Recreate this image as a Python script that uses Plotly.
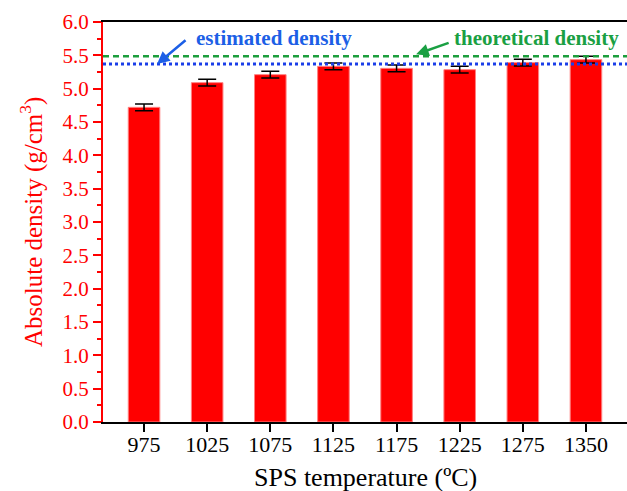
import plotly.graph_objects as go

# SPS sintering temperatures (ºC) and measured absolute densities (g/cm3)
temperatures = ["975", "1025", "1075", "1125", "1175", "1225", "1275", "1350"]
density = [4.72, 5.09, 5.21, 5.335, 5.305, 5.285, 5.39, 5.435]
density_err = [0.05, 0.05, 0.05, 0.05, 0.05, 0.05, 0.05, 0.05]

theoretical_density = 5.485
estimated_density = 5.37

SERIF = "Liberation Serif"
RED = "#ff0000"
BLUE_LINE = "#1a3ee8"
GREEN_LINE = "#1c9e3c"
BLUE_TEXT = "#1c5fe6"
GREEN_TEXT = "#1aa043"

xpos = list(range(len(temperatures)))

fig = go.Figure()
fig.add_trace(go.Bar(
    x=xpos, y=density, width=0.5,
    marker=dict(color=RED, line=dict(color="#ff8080", width=1)),
    error_y=dict(type="data", array=density_err, color="black",
                 thickness=1.5, width=9),
))

# reference density levels
fig.add_shape(type="line", xref="paper", x0=0, x1=1, yref="y",
              y0=theoretical_density, y1=theoretical_density,
              line=dict(color=GREEN_LINE, width=2.5, dash="6px,4px"))
fig.add_shape(type="line", xref="paper", x0=0, x1=1, yref="y",
              y0=estimated_density, y1=estimated_density,
              line=dict(color=BLUE_LINE, width=3, dash="dot"))

annotations = [
    dict(x=0.206, y=estimated_density, xref="x", yref="y", text="",
         showarrow=True, arrowhead=2, arrowsize=1, arrowwidth=2.5,
         arrowcolor=BLUE_TEXT, ax=30, ay=-25),
    dict(x=4.31, y=theoretical_density + 0.03, xref="x", yref="y", text="",
         showarrow=True, arrowhead=2, arrowsize=1, arrowwidth=2.5,
         arrowcolor=GREEN_TEXT, ax=34, ay=-12),
    dict(x=0.326, y=0.959, xref="paper", yref="paper",
         text="<b>estimated density</b>", showarrow=False,
         font=dict(family=SERIF, size=21, color=BLUE_TEXT),
         xanchor="center", yanchor="middle"),
    dict(x=0.827, y=0.959, xref="paper", yref="paper",
         text="<b>theoretical density</b>", showarrow=False,
         font=dict(family=SERIF, size=21, color=GREEN_TEXT),
         xanchor="center", yanchor="middle"),
    dict(x=0.5, y=0, xref="paper", yref="paper", yshift=-55,
         text="SPS temperature (ºC)", showarrow=False,
         font=dict(family=SERIF, size=26, color="black"),
         xanchor="center", yanchor="middle"),
    dict(x=0, y=0.5, xref="paper", yref="paper", xshift=-72,
         text="Absolute density (g/cm<sup>3</sup>)", showarrow=False,
         textangle=-90,
         font=dict(family=SERIF, size=25, color=RED),
         xanchor="center", yanchor="middle"),
]

fig.update_layout(
    width=627, height=491,
    margin=dict(l=103, r=0, t=22, b=69),
    paper_bgcolor="white", plot_bgcolor="white",
    showlegend=False,
    font=dict(family=SERIF),
    annotations=annotations,
    xaxis=dict(
        range=[-0.65, 7.65], tickvals=xpos, ticktext=temperatures,
        showline=True, linecolor="black", linewidth=2, mirror=True,
        ticks="outside", ticklen=8, tickwidth=1.5, tickcolor="black",
        ticklabelstandoff=-6,
        showgrid=False, zeroline=False,
        tickfont=dict(family=SERIF, size=22, color="black"),
    ),
    yaxis=dict(
        range=[0, 6], tickvals=[i * 0.5 for i in range(13)],
        ticktext=[f"{i * 0.5:.1f}" for i in range(13)],
        showline=True, linecolor=RED, linewidth=2,
        ticks="outside", ticklen=8, tickwidth=1.5, tickcolor=RED,
        minor=dict(ticks="outside", ticklen=4, tickwidth=1.5,
                   tickcolor=RED, dtick=0.25, showgrid=False),
        showgrid=False, zeroline=False,
        tickfont=dict(family=SERIF, size=21, color=RED),
    ),
)

fig.write_html("out.html")
